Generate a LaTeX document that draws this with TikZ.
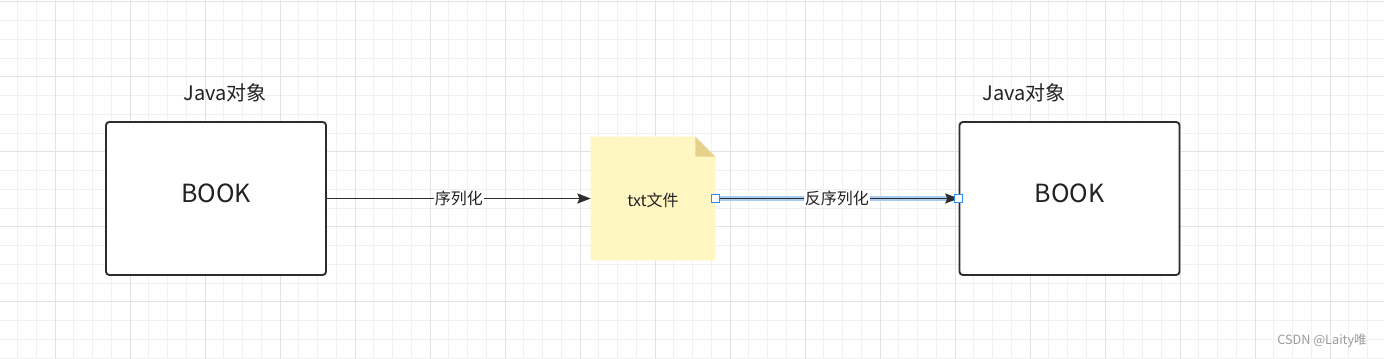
\documentclass[tikz,border=0pt]{standalone}
\usepackage{fontspec}
\setmainfont{Noto Sans CJK SC}
\usepackage{tikz}
\usetikzlibrary{arrows.meta, positioning, calc}
\definecolor{GridMinor}{RGB}{241,241,241}
\definecolor{GridMajor}{RGB}{226,226,226}
\definecolor{BoxLine}{RGB}{45,45,45}
\definecolor{TextDark}{RGB}{34,34,34}
\definecolor{NoteFill}{RGB}{255,246,193}
\definecolor{NoteFold}{RGB}{229,208,140}
\definecolor{SelBlue}{RGB}{41,143,255}
\definecolor{SelGlow}{RGB}{168,204,240}
\definecolor{MarkGray}{RGB}{155,155,155}

\begin{document}
\begin{tikzpicture}[x=0.75pt, y=-0.75pt,
    bookbox/.style={draw=BoxLine, line width=1.4pt, rounded corners=2.5pt, fill=white,
                    minimum width=165pt, minimum height=114.75pt, inner sep=0pt},
    booktext/.style={font=\fontsize{18.75}{20}\selectfont, text=TextDark, inner sep=0pt},
    titletext/.style={font=\fontsize{15}{17}\selectfont, text=TextDark, inner sep=0pt},
    notebox/.style={minimum width=93pt, minimum height=92.25pt, inner sep=0pt,
                    font=\fontsize{12}{14}\selectfont, text=TextDark},
    flowarrow/.style={-{Stealth[length=10pt, width=7.5pt, inset=1.5pt]}, BoxLine, line width=1.2pt},
    selglow/.style={SelGlow, line width=4pt},
    edgelabel/.style={fill=white, inner sep=1pt, font=\fontsize{12}{14}\selectfont, text=TextDark},
    handle/.style={draw=SelBlue, fill=white, line width=0.8pt, minimum size=6pt, inner sep=0pt}]

      % page and grid
      \useasboundingbox (0,0) rectangle (1384,359);
      \fill[white] (0,0) rectangle (1384,359);
      \foreach \gx in {17.5,36.25,...,1384} \draw[GridMinor, line width=0.75pt] (\gx,0) -- (\gx,359);
      \foreach \gy in {2,20.75,...,359} \draw[GridMinor, line width=0.75pt] (0,\gy) -- (1384,\gy);
      \foreach \gx in {55,130,...,1384} \draw[GridMajor, line width=0.75pt] (\gx,0) -- (\gx,359);
      \foreach \gy in {2,77,...,359} \draw[GridMajor, line width=0.75pt] (0,\gy) -- (1384,\gy);

      % the two objects
      \node[bookbox] (book1) at (216,198.5) {};
      \node[booktext] (booktxt1) at (216,193.5) {BOOK};
      \node[titletext] (java1) at (225,93) {Java对象};

      \node[bookbox] (book2) at (1069.5,198.5) {};
      \node[booktext] (booktxt2) at (1069.5,193.5) {BOOK};
      \node[titletext] (java2) at (1024,93) {Java对象};

      % the file as a note
      \node[notebox] (txt) at (653,198.5) {};
      \fill[NoteFill] (txt.north west) -- ($(txt.north east)+(-20,0)$) -- ($(txt.north east)+(0,20)$)
            -- (txt.south east) -- (txt.south west) -- cycle;
      \fill[NoteFold] ($(txt.north east)+(-20,0)$) -- ($(txt.north east)+(-20,20)$)
            -- ($(txt.north east)+(0,20)$) -- cycle;
      \node[notebox] (txtlabel) at (653,200) {txt文件};

      % serialize
      \draw[flowarrow] (book1) -- node[edgelabel] {序列化} (txt);

      % deserialize (selected edge)
      \draw[selglow] (txt) -- (book2);
      \draw[flowarrow] (txt) -- node[edgelabel] {反序列化} (book2);
      \node[handle] (h1) at (txt.east) {};
      \node[handle] (h2) at (book2.west) {};

      \node[font=\fontsize{9.5}{11}\selectfont, text=MarkGray, inner sep=0pt] (mark) at (1322,341) {CSDN @Laity唯};
\end{tikzpicture}
\end{document}
